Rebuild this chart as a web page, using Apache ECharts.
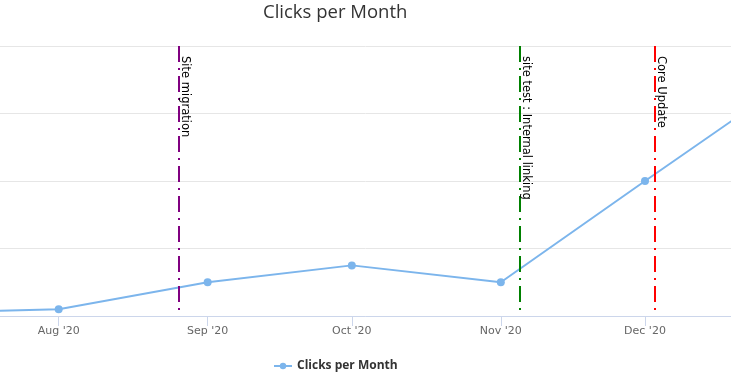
<!DOCTYPE html>
<html>
<head>
<meta charset="utf-8">
<script src="https://cdn.jsdelivr.net/npm/echarts@6/dist/echarts.min.js"></script>
<style>
  html, body { margin: 0; padding: 0; background: #fff; }
  #chart { width: 731px; height: 387px; }
</style>
</head>
<body>
<div id="chart"></div>
<script>
// ---- data ----
const months = ['2020-07-01', '2020-08-01', '2020-09-01', '2020-10-01', '2020-11-01', '2020-12-01', '2021-01-01'];
const clicks = [4, 10, 50, 75, 50, 200, 353];
const tickMonths = ['2020-08-01', '2020-09-01', '2020-10-01', '2020-11-01', '2020-12-01'];
const monthNames = ['Jan', 'Feb', 'Mar', 'Apr', 'May', 'Jun', 'Jul', 'Aug', 'Sep', 'Oct', 'Nov', 'Dec'];
const eventDates = ['2020-08-26', '2020-11-05', '2020-12-03'];
const eventLabels = ['Site migration', 'site test : Internal linking', 'Core Update'];
const eventColors = ['#800080', '#008000', '#ff0000'];
const xRange = ['2020-07-19T19:00:00Z', '2020-12-18T21:30:00Z'];
const yTicks = [0, 100, 200, 300, 400];

const ts = s => Date.parse(s.length === 10 ? s + 'T00:00:00Z' : s);

const seriesData = months.map((m, i) => [ts(m), clicks[i]]);
const yMin = yTicks[0], yMax = yTicks[yTicks.length - 1];

const markLineData = eventDates.map((d, i) => [
  {
    coord: [ts(d), yMax],
    lineStyle: { color: eventColors[i], width: 2, type: [16, 6, 2, 6] },
    label: {
      show: true,
      formatter: eventLabels[i],
      position: 'insideStartTop',
      distance: [10, 0],
      color: '#000',
      fontFamily: 'DejaVu Sans',
      fontSize: 11.5
    }
  },
  { coord: [ts(d), yMin] }
]);

const chart = echarts.init(document.getElementById('chart'), null, { renderer: 'canvas' });
chart.setOption({
  animation: false,
  backgroundColor: '#fff',
  title: {
    text: 'Clicks per Month',
    left: 258,
    top: -2,
    textStyle: { fontFamily: 'Open Sans', fontSize: 18.5, fontWeight: 'normal', color: '#333' }
  },
  legend: {
    top: 355,
    left: 268,
    itemWidth: 18,
    itemHeight: 8,
    itemGap: 5,
    textStyle: { fontFamily: 'Open Sans', fontSize: 12, fontWeight: 'bold', color: '#333' },
    data: ['Clicks per Month']
  },
  grid: { left: 0, right: 0, top: 46, bottom: 71, containLabel: false },
  xAxis: {
    type: 'value',
    min: ts(xRange[0]),
    max: ts(xRange[1]),
    axisLine: { show: true, lineStyle: { color: '#ccd6eb', width: 1 } },
    axisTick: { show: true, length: 10, lineStyle: { color: '#ccd6eb' }, customValues: tickMonths.map(ts) },
    axisLabel: {
      customValues: tickMonths.map(ts),
      color: '#666',
      fontFamily: 'DejaVu Sans',
      fontSize: 11,
      margin: 10,
      formatter: v => {
        const d = new Date(v);
        return monthNames[d.getUTCMonth()] + " '" + String(d.getUTCFullYear()).slice(2);
      }
    },
    splitLine: { show: false }
  },
  yAxis: {
    type: 'value',
    min: yMin,
    max: yMax,
    interval: yTicks[1] - yTicks[0],
    axisLine: { show: false },
    axisTick: { show: false },
    axisLabel: { show: false },
    splitLine: { show: true, lineStyle: { color: '#e6e6e6', width: 1 } }
  },
  series: [{
    name: 'Clicks per Month',
    type: 'line',
    data: seriesData,
    symbol: 'circle',
    symbolSize: 8,
    showAllSymbol: true,
    clip: true,
    color: '#7cb5ec',
    lineStyle: { color: '#7cb5ec', width: 2 },
    itemStyle: { color: '#7cb5ec' },
    markLine: {
      silent: true,
      symbol: ['none', 'none'],
      animation: false,
      data: markLineData
    }
  }]
});
</script>
</body>
</html>
